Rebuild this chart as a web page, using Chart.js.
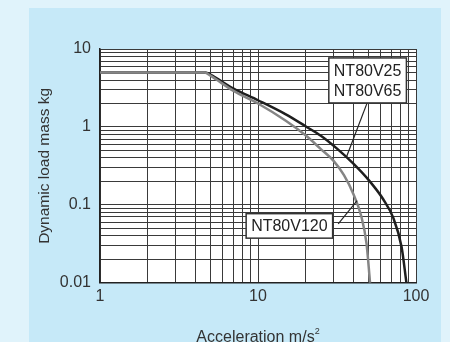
<!DOCTYPE html>
<html>
<head>
<meta charset="utf-8">
<script src="https://cdn.jsdelivr.net/npm/chart.js@4"></script>
<style>
  html, body { margin: 0; padding: 0; background: #e0f3fb; }
  #wrap { width: 450px; height: 342px; }
</style>
</head>
<body>
<div id="wrap"><canvas id="chart" width="450" height="342"></canvas></div>
<script>
// acceleration (m/s2) and dynamic load mass (kg)
const accV25 = [1, 4.65, 5, 7, 10, 15, 20, 25, 31.5, 40, 51, 62, 71.6, 81, 87];
const massV25 = [5, 5, 4.7, 3.1, 2.2, 1.45, 1.02, 0.77, 0.53, 0.34, 0.2, 0.118, 0.069, 0.029, 0.01];

const accV120 = [1, 4.6, 5, 7, 10, 15, 20, 25, 30, 35, 40, 45, 48.6, 51.2];
const massV120 = [5, 5, 4.55, 2.9, 2.0, 1.2, 0.78, 0.52, 0.37, 0.24, 0.14, 0.072, 0.032, 0.01];

const xTicks = [1, 2, 3, 4, 5, 6, 7, 8, 9, 10, 20, 30, 40, 50, 60, 70, 80, 90, 100];
const yTicks = [0.01, 0.02, 0.03, 0.04, 0.05, 0.06, 0.07, 0.08, 0.09,
                0.1, 0.2, 0.3, 0.4, 0.5, 0.6, 0.7, 0.8, 0.9,
                1, 2, 3, 4, 5, 6, 7, 8, 9, 10];
const xLabels = [1, 10, 100];
const yLabels = { 0.01: '0.01', 0.1: '0.1', 1: '1', 10: '10' };

// label boxes: text centre and leader line, in data units
const notes = [
  { lines: ['NT80V25', 'NT80V65'], x: 49.4, y: 3.95, from: [49, 2.02], to: [36.4, 0.417] },
  { lines: ['NT80V120'], x: 15.8, y: 0.0537, from: [32.2, 0.057], to: [42.4, 0.113] }
];

const FONT = '"Liberation Sans", Arial, sans-serif';

const pagePlugin = {
  id: 'page',
  beforeDraw(chart) {
    const c = chart.ctx;
    c.save();
    c.fillStyle = '#e0f3fb';
    c.fillRect(0, 0, chart.width, chart.height);
    c.fillStyle = '#c6e9f8';
    c.fillRect(29, 8, 412, chart.height - 8);
    const a = chart.chartArea;
    c.fillStyle = '#ffffff';
    c.fillRect(a.left, a.top, a.right - a.left, a.bottom - a.top);
    c.restore();
  },
  afterDraw(chart) {
    const c = chart.ctx;
    const xs = chart.scales.x, ys = chart.scales.y;
    c.save();
    c.font = '16px ' + FONT;
    c.textAlign = 'center';
    c.textBaseline = 'middle';
    notes.forEach(n => {
      c.strokeStyle = '#222';
      c.lineWidth = 1.2;
      c.beginPath();
      c.moveTo(xs.getPixelForValue(n.from[0]), ys.getPixelForValue(n.from[1]));
      c.lineTo(xs.getPixelForValue(n.to[0]), ys.getPixelForValue(n.to[1]));
      c.stroke();
      const cx = xs.getPixelForValue(n.x), cy = ys.getPixelForValue(n.y);
      const lh = 20.5;
      const w = Math.max(...n.lines.map(t => c.measureText(t).width)) + 10;
      const h = n.lines.length * lh + 4;
      c.fillStyle = '#fff';
      c.fillRect(cx - w / 2, cy - h / 2, w, h);
      c.lineWidth = 1.5;
      c.strokeStyle = '#333';
      c.strokeRect(cx - w / 2, cy - h / 2, w, h);
      c.fillStyle = '#222';
      n.lines.forEach((t, i) => {
        c.fillText(t, cx, cy + (i - (n.lines.length - 1) / 2) * lh + 1);
      });
    });
    // x axis title with superscript
    c.textAlign = 'left';
    c.textBaseline = 'alphabetic';
    const t1 = 'Acceleration m/s';
    c.font = '16px ' + FONT;
    const w1 = c.measureText(t1).width;
    c.font = '9px ' + FONT;
    const w2 = c.measureText('2').width;
    const mid = (chart.chartArea.left + chart.chartArea.right) / 2;
    const x0 = mid - (w1 + w2) / 2;
    c.fillStyle = '#333';
    c.font = '16px ' + FONT;
    c.fillText(t1, x0, 342);
    c.font = '9px ' + FONT;
    c.fillText('2', x0 + w1, 334);
    c.restore();
  }
};

const gridColor = '#3a3a3a';

new Chart(document.getElementById('chart'), {
  type: 'line',
  data: {
    datasets: [
      {
        label: 'NT80V120',
        data: accV120.map((x, i) => ({ x: x, y: massV120[i] })),
        borderColor: '#858585',
        borderWidth: 2.5,
        pointRadius: 0,
        cubicInterpolationMode: 'monotone',
        fill: false
      },
      {
        label: 'NT80V25 / NT80V65',
        data: accV25.map((x, i) => ({ x: x, y: massV25[i] })),
        borderColor: '#1e1e1e',
        borderWidth: 2.5,
        pointRadius: 0,
        cubicInterpolationMode: 'monotone',
        fill: false
      }
    ]
  },
  options: {
    responsive: false,
    animation: false,
    layout: { padding: { left: 35, right: 34, top: 49, bottom: 32 } },
    plugins: { legend: { display: false }, tooltip: { enabled: false } },
    scales: {
      x: {
        type: 'logarithmic',
        min: 1, max: 100,
        afterBuildTicks: s => { s.ticks = xTicks.map(v => ({ value: v })); },
        ticks: {
          autoSkip: false,
          maxRotation: 0,
          color: '#333',
          padding: 4,
          font: { family: FONT, size: 16 },
          callback: v => xLabels.includes(v) ? String(v) : ''
        },
        grid: { color: gridColor, lineWidth: 1, drawTicks: false },
        border: { color: '#222', width: 1.5 }
      },
      y: {
        type: 'logarithmic',
        min: 0.01, max: 10,
        afterBuildTicks: s => { s.ticks = yTicks.map(v => ({ value: v })); },
        afterFit: s => { s.width = 65; },
        ticks: {
          autoSkip: false,
          color: '#333',
          padding: 9,
          font: { family: FONT, size: 16 },
          callback: v => yLabels[v] || ''
        },
        grid: { color: gridColor, lineWidth: 1, drawTicks: false },
        border: { color: '#222', width: 1.5 },
        title: {
          display: true,
          text: 'Dynamic load mass kg',
          color: '#333',
          padding: 0,
          font: { family: FONT, size: 15.5 }
        }
      }
    }
  },
  plugins: [pagePlugin]
});
</script>
</body>
</html>
